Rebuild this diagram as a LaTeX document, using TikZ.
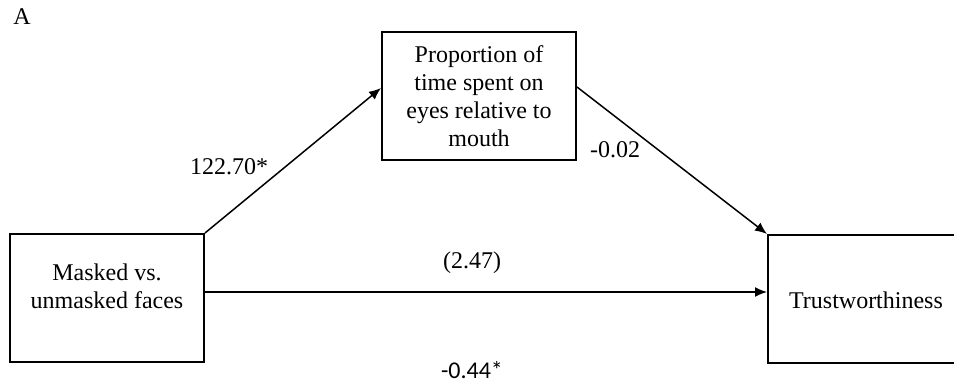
\documentclass[tikz,border=0pt]{standalone}
\usepackage{fontspec}
\setmainfont{Liberation Serif}
\newfontfamily\calib{Carlito}
\usetikzlibrary{arrows.meta}
\begin{document}
\begin{tikzpicture}[x=0.5pt,y=-0.5pt,
  box/.style={draw,line width=1pt,minimum width=97pt,minimum height=64pt,inner sep=0pt},
  txt/.style={align=center,font=\fontsize{12}{14}\selectfont,inner sep=0pt},
  lbl/.style={font=\fontsize{12}{14}\selectfont,inner sep=0pt},
  conn/.style={line width=0.75pt,-{Latex[length=6pt,width=5pt]}}]
\useasboundingbox (0,0) rectangle (954,385);
\clip (0,0) rectangle (954,385);
\node[lbl] (A) at (22,17) {A};
\node[box] (L) at (107,298) {};
\node[txt] (Lt) at (107,286) {Masked vs.\\unmasked faces};
\node[box] (M) at (479,96) {};
\node[txt] (Mt) at (479,96) {Proportion of\\time spent on\\eyes relative to\\mouth};
\node[box,minimum width=120pt] (R) at (888,299) {};
\node[txt] (Rt) at (866,300) {Trustworthiness};
\draw[conn] (L.north east) -- ([yshift=4pt]M.west);
\draw[conn] ([yshift=4.5pt]M.east) -- (R.north west);
\draw[conn] ([yshift=3pt]L.east) -- ([yshift=3.5pt]R.west);
\node[lbl] (a) at (229,167) {122.70*};
\node[lbl] (b) at (615,150) {-0.02};
\node[lbl] (c) at (472,263) {(2.47)};
\node[lbl,font=\calib\fontsize{12}{14}\selectfont] (cp) at (472,370) {-0.44*};
\end{tikzpicture}
\end{document}
